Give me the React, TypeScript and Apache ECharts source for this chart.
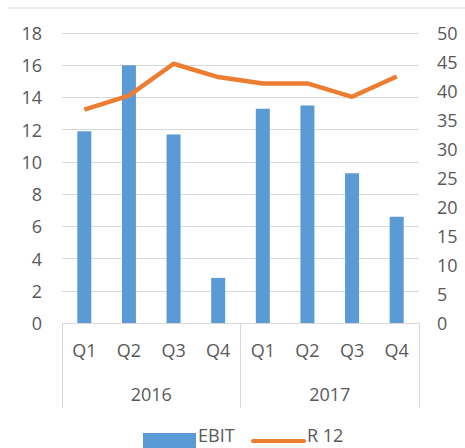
import React, { useEffect, useRef } from "react";
import * as echarts from "echarts";

const quarters = ["Q1", "Q2", "Q3", "Q4", "Q1", "Q2", "Q3", "Q4"];
const years = ["2016", "2017"];
const ebit = [11.9, 16.0, 11.7, 2.8, 13.3, 13.5, 9.3, 6.6];
const r12 = [36.8, 39.2, 44.7, 42.4, 41.3, 41.3, 39.0, 42.5];
const seriesNames = ["EBIT", "R 12"];

const FONT = "Open Sans";
const TXT = "#595959";
const FS = 18;
const BLUE = "#5B9BD5";
const ORANGE = "#ED7D31";

export default function App() {
  const ref = useRef<HTMLDivElement>(null);
  useEffect(() => {
    if (!ref.current) return;
    const chart = echarts.init(ref.current, null, { renderer: "svg" });
    chart.setOption({
      animation: false,
      textStyle: { fontFamily: FONT },
      grid: { left: 62, right: 46, top: 33, bottom: 125 },
      graphic: [
        {
          type: "line",
          shape: { x1: 8, y1: 8, x2: 465, y2: 8 },
          style: { stroke: "#D9D9D9", lineWidth: 1 },
        },
        {
          type: "rect",
          shape: { x: 143, y: 433, width: 53, height: 15 },
          style: { fill: BLUE },
        },
        {
          type: "text",
          x: 198,
          y: 435,
          style: {
            text: seriesNames[0],
            fill: TXT,
            fontSize: 18,
            fontFamily: FONT,
            verticalAlign: "middle",
            align: "left",
          },
        },
        {
          type: "line",
          shape: { x1: 253, y1: 441, x2: 304, y2: 441 },
          style: { stroke: ORANGE, lineWidth: 4, lineCap: "round" },
        },
        {
          type: "text",
          x: 307,
          y: 435,
          style: {
            text: seriesNames[1],
            fill: TXT,
            fontSize: 18,
            fontFamily: FONT,
            verticalAlign: "middle",
            align: "left",
          },
        },
      ],
      xAxis: [
        {
          type: "category",
          data: quarters,
          position: "bottom",
          axisLine: { show: true, lineStyle: { color: "#D9D9D9" } },
          axisTick: { show: false },
          axisLabel: { color: TXT, fontSize: FS, fontFamily: FONT, margin: 18 },
        },
        {
          type: "category",
          data: years,
          position: "bottom",
          axisLine: { show: false },
          axisTick: { show: true, length: 85, lineStyle: { color: "#D9D9D9" } },
          axisLabel: { color: TXT, fontSize: FS, fontFamily: FONT, margin: 62 },
        },
      ],
      yAxis: [
        {
          type: "value",
          min: 0,
          max: 18,
          interval: 2,
          axisLine: { show: false },
          axisTick: { show: false },
          axisLabel: { color: TXT, fontSize: FS, fontFamily: FONT, margin: 20 },
          splitLine: { lineStyle: { color: "#D9D9D9", width: 1 } },
        },
        {
          type: "value",
          min: 0,
          max: 50,
          interval: 5,
          position: "right",
          axisLine: { show: false },
          axisTick: { show: false },
          axisLabel: { color: TXT, fontSize: FS, fontFamily: FONT, margin: 18 },
          splitLine: { show: false },
        },
      ],
      series: [
        {
          name: seriesNames[0],
          type: "bar",
          data: ebit,
          xAxisIndex: 0,
          yAxisIndex: 0,
          barWidth: 14,
          itemStyle: { color: BLUE },
        },
        {
          name: seriesNames[1],
          type: "line",
          data: r12,
          xAxisIndex: 0,
          yAxisIndex: 1,
          symbol: "none",
          lineStyle: { color: ORANGE, width: 4.5 },
          itemStyle: { color: ORANGE },
        },
      ],
    });
    return () => chart.dispose();
  }, []);
  return <div ref={ref} style={{ width: 465, height: 448, position: "absolute", left: 0, top: 0 }} />;
}
